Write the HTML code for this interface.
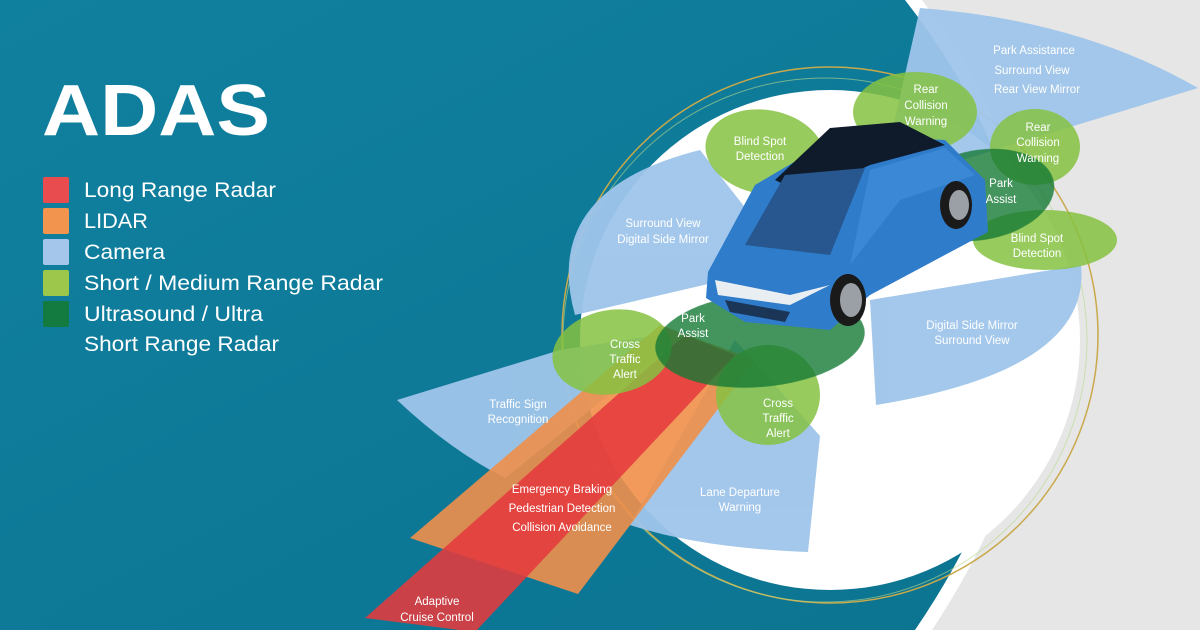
<!DOCTYPE html>
<html><head><meta charset="utf-8"><style>
html,body{margin:0;padding:0;width:1200px;height:630px;overflow:hidden;background:#0e7d9d}
svg{display:block}
text{font-family:"Liberation Sans",sans-serif;fill:#fff}
</style></head><body>
<svg width="1200" height="630" viewBox="0 0 1200 630" xmlns="http://www.w3.org/2000/svg">
<defs>
<linearGradient id="bg" x1="0" y1="0" x2="1" y2="1"><stop offset="0" stop-color="#10809f"/><stop offset="1" stop-color="#0b7390"/></linearGradient>
</defs>
<rect width="1200" height="630" fill="url(#bg)"/>
<path d="M905,0 Q1140,300 915,630 L1200,630 L1200,0 Z" fill="#ffffff"/>
<path d="M922,0 Q1150,300 932,630 L1200,630 L1200,0 Z" fill="#e6e6e6"/>
<circle cx="830" cy="340" r="250" fill="#ffffff"/>
<circle cx="830" cy="335" r="268" fill="none" stroke="#c9a94a" stroke-width="1.5"/>
<circle cx="825" cy="340" r="262" fill="none" stroke="#b8d98a" stroke-width="1" opacity=".6"/>

<g fill="#9fc5ea" opacity=".95">
<path d="M880,185 L920,8 Q1080,20 1198,88 Z"/>
<path d="M790,265 L700,150 Q540,190 575,315 Z"/>
<path d="M870,300 L1081,265 Q1092,370 876,405 Z"/>
<path d="M690,330 L560,350 L397,400 Q450,450 505,478 Z"/>
<path d="M735,340 L820,436 L808,552 Q700,548 630,525 L690,420 Z"/>
</g>

<path d="M660,325 L755,360 L578,594 L410,538 Z" fill="#f08f4a" opacity=".9"/>
<path d="M685,335 L735,355 L475,632 L365,618 Z" fill="#e53a3e" opacity=".88"/>

<g fill="#86c241" opacity=".85">
<ellipse cx="765" cy="152" rx="60" ry="42" transform="rotate(10 765 152)"/>
<ellipse cx="915" cy="112" rx="62" ry="40"/>
<ellipse cx="1035" cy="147" rx="45" ry="38"/>
<ellipse cx="1045" cy="240" rx="72" ry="30"/>
<ellipse cx="612" cy="352" rx="60" ry="42" transform="rotate(-10 612 352)"/>
<ellipse cx="768" cy="395" rx="52" ry="50"/>
</g>
<g fill="#167a35" opacity=".8">
<ellipse cx="760" cy="340" rx="105" ry="47" transform="rotate(-5 760 340)"/>
<ellipse cx="980" cy="195" rx="75" ry="45" transform="rotate(-10 980 195)"/>
</g>

<g>
<path d="M708,272 L755,185 L840,135 L945,140 L985,180 L988,232 L870,295 L830,330 L745,322 L706,298 Z" fill="#2f7ccb"/>
<path d="M775,180 L830,128 L900,122 L945,145 L870,165 L805,195 Z" fill="#0f1a2a"/>
<path d="M745,245 L785,175 L865,168 L830,255 Z" fill="#27578e"/>
<path d="M870,170 L945,148 L975,175 L900,200 L850,265 Z" fill="#3b88d6"/>
<path d="M715,280 L790,295 L830,285 L790,305 L718,295 Z" fill="#e9eef3"/>
<path d="M725,300 L790,312 L785,322 L730,312 Z" fill="#1b3556"/>
<ellipse cx="848" cy="300" rx="18" ry="26" fill="#1a1a1a"/>
<ellipse cx="851" cy="300" rx="11" ry="17" fill="#9aa0a6"/>
<ellipse cx="956" cy="205" rx="16" ry="24" fill="#1a1a1a"/>
<ellipse cx="959" cy="205" rx="10" ry="15" fill="#9aa0a6"/>
</g>

<g font-size="11.5" text-anchor="middle">
<text x="1034" y="54">Park Assistance</text>
<text x="1032" y="74">Surround View</text>
<text x="1037" y="93">Rear View Mirror</text>
<text x="926" y="93">Rear</text><text x="926" y="109">Collision</text><text x="926" y="125">Warning</text>
<text x="1038" y="131">Rear</text><text x="1038" y="146">Collision</text><text x="1038" y="162">Warning</text>
<text x="760" y="145">Blind Spot</text><text x="760" y="160">Detection</text>
<text x="1001" y="187">Park</text><text x="1001" y="203">Assist</text>
<text x="663" y="227">Surround View</text><text x="663" y="243">Digital Side Mirror</text>
<text x="1037" y="242">Blind Spot</text><text x="1037" y="257">Detection</text>
<text x="972" y="329">Digital Side Mirror</text><text x="972" y="344">Surround View</text>
<text x="693" y="322">Park</text><text x="693" y="337">Assist</text>
<text x="625" y="348">Cross</text><text x="625" y="363">Traffic</text><text x="625" y="378">Alert</text>
<text x="778" y="407">Cross</text><text x="778" y="422">Traffic</text><text x="778" y="437">Alert</text>
<text x="518" y="408">Traffic Sign</text><text x="518" y="423">Recognition</text>
<text x="740" y="496">Lane Departure</text><text x="740" y="511">Warning</text>
<text x="562" y="493">Emergency Braking</text>
<text x="562" y="512">Pedestrian Detection</text>
<text x="562" y="531">Collision Avoidance</text>
<text x="437" y="605">Adaptive</text><text x="437" y="621">Cruise Control</text>
</g>

<text x="42" y="135" font-size="72" font-weight="bold" textLength="228" lengthAdjust="spacingAndGlyphs">ADAS</text>
<rect x="43" y="177" width="26" height="26" rx="2" fill="#e84c4f"/>
<rect x="43" y="208" width="26" height="26" rx="2" fill="#f2934e"/>
<rect x="43" y="239" width="26" height="26" rx="2" fill="#a4c6ea"/>
<rect x="43" y="270" width="26" height="26" rx="2" fill="#9dc74a"/>
<rect x="43" y="301" width="26" height="26" rx="2" fill="#137a40"/>
<g font-size="21">
<text x="84" y="197" textLength="192" lengthAdjust="spacingAndGlyphs">Long Range Radar</text>
<text x="84" y="228" textLength="64" lengthAdjust="spacingAndGlyphs">LIDAR</text>
<text x="84" y="259" textLength="81" lengthAdjust="spacingAndGlyphs">Camera</text>
<text x="84" y="290" textLength="299" lengthAdjust="spacingAndGlyphs">Short / Medium Range Radar</text>
<text x="84" y="321" textLength="179" lengthAdjust="spacingAndGlyphs">Ultrasound / Ultra</text>
<text x="84" y="351" textLength="195" lengthAdjust="spacingAndGlyphs">Short Range Radar</text>
</g>
</svg>
</body></html>
